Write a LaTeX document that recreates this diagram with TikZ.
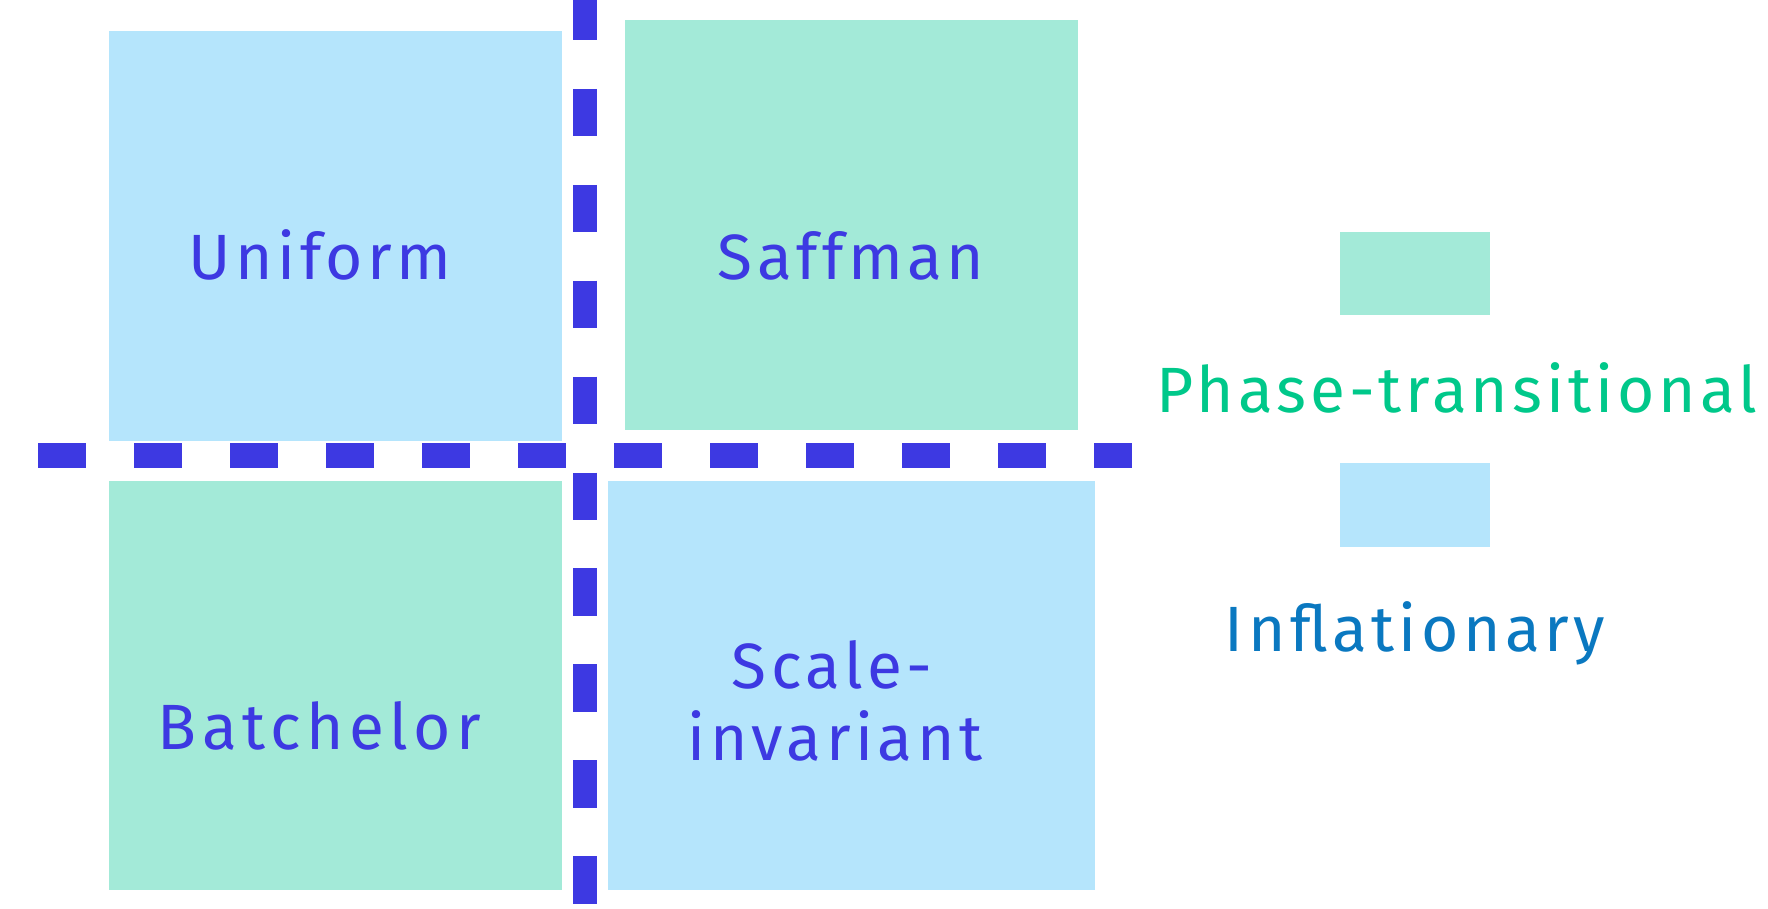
\documentclass[tikz,border=0pt]{standalone}
\usepackage{fontspec}
\setmainfont{Fira Sans}[LetterSpace=7]
\newfontfamily\widefont{Fira Sans}[LetterSpace=8.6]
\newfontfamily\narrowfont{Fira Sans}[LetterSpace=6.2]
\definecolor{dashblue}{RGB}{61,57,226}
\definecolor{boxblue}{RGB}{181,229,252}
\definecolor{boxgreen}{RGB}{163,234,216}
\definecolor{txtgreen}{RGB}{0,200,138}
\definecolor{txtblue}{RGB}{10,120,192}
\tikzset{
  panel/.style={draw=none, inner sep=0pt, anchor=north west},
  lbl/.style={font=\fontsize{64}{72}\selectfont, text=dashblue, anchor=base, inner sep=0pt},
  leglbl/.style={font=\fontsize{64}{72}\selectfont, anchor=base, inner sep=0pt},
  divider/.style={draw=dashblue, line cap=butt}
}
\begin{document}
\begin{tikzpicture}[x=1pt,y=-1pt]
\useasboundingbox (0,0) rectangle (1768,909);
\clip (0,0) rectangle (1768,909);
% panels
\node[panel, fill=boxblue, minimum width=453pt, minimum height=410pt] (uni) at (109,31) {};
\node[panel, fill=boxgreen, minimum width=453pt, minimum height=410pt] (saf) at (625,20) {};
\node[panel, fill=boxgreen, minimum width=453pt, minimum height=409pt] (bat) at (109,481) {};
\node[panel, fill=boxblue, minimum width=487pt, minimum height=409pt] (sca) at (608,481) {};
% dashed dividers
\coordinate (hL) at (38,455.5);
\coordinate (hR) at (1132,455.5);
\coordinate (vT) at (585,-7);
\coordinate (vB) at (585,904);
\draw[divider, line width=25pt, dash pattern=on 48pt off 48pt] (hL) -- (hR);
\draw[divider, line width=24pt, dash pattern=on 47.5pt off 48.4pt] (vT) -- (vB);
% labels
\node[lbl] (tuni) at (320,279) {Uniform};
\node[lbl] (tsaf) at (851,279) {Saffman};
\node[lbl, font=\fontsize{64}{72}\selectfont\widefont] (tbat) at (319.5,749) {Batchelor};
\node[lbl] (tsca1) at (832,688) {Scale-};
\node[lbl] (tsca2) at (835,760) {invariant};
% legend
\node[panel, fill=boxgreen, minimum width=150pt, minimum height=83pt] (lg) at (1340,232) {};
\node[panel, fill=boxblue, minimum width=150pt, minimum height=84pt] (lb) at (1340,463) {};
\node[leglbl, text=txtgreen, font=\fontsize{64}{72}\selectfont\narrowfont] (tlg) at (1457,412) {Phase-transitional};
\node[leglbl, text=txtblue] (tlb) at (1415,651) {Inflationary};
\end{tikzpicture}
\end{document}
